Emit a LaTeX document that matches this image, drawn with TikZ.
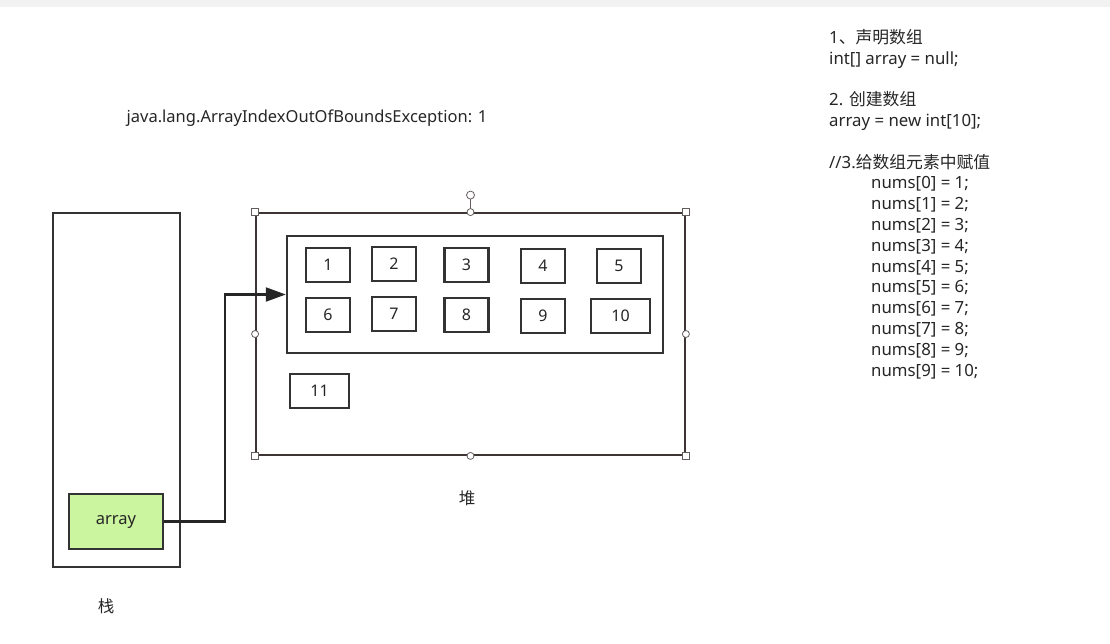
\documentclass[tikz,border=0pt]{standalone}
\usepackage{fontspec}
\setmainfont{Noto Sans}
\newfontfamily\cjk{Noto Sans CJK SC}
\usetikzlibrary{arrows.meta}
\definecolor{edge}{HTML}{333333}
\definecolor{frame}{HTML}{3D3434}
\definecolor{leaf}{HTML}{CCF59F}
\definecolor{strip}{HTML}{F2F2F2}
\definecolor{ink}{HTML}{262626}

\begin{document}
\begin{tikzpicture}[x=1pt, y=-1pt,
      cell/.style={draw=edge, line width=2.6pt, minimum width=44pt, minimum height=34pt,
                   inner sep=0pt, text=ink, font=\fontsize{16}{18}\selectfont},
      wide/.style={cell, minimum width=59pt},
      box/.style={draw=edge, line width=2.4pt, inner sep=0pt},
      handle/.style={draw=frame!80, fill=white, line width=0.8pt, inner sep=0pt, minimum size=7pt},
      label/.style={text=ink, font=\fontsize{16.5}{18}\selectfont},
      >={Triangle[length=20pt, width=14pt]}]
    \useasboundingbox (0,0) rectangle (1110,643);
    \fill[strip] (0,0) rectangle (1110,7);
    % stack
    \node[box, minimum width=127pt, minimum height=354pt] (stack) at (116.5,390) {};
    \node[box, fill=leaf, minimum width=94pt, minimum height=55pt, label] (arr) at (116,521.5) {\raisebox{-3pt}{array}};
    \node[label, font=\cjk\fontsize{16.5}{18}\selectfont] (stk) at (106,606) {栈};
    % heap
    \node[draw=frame, line width=1.8pt, minimum width=429pt, minimum height=242pt] (heap) at (470.5,334) {};
    \node[box, minimum width=376pt, minimum height=117pt] (inner) at (475,294.5) {};
    \node[cell] (c1) at (328,265) {1};
    \node[cell] (c2) at (394,264) {2};
    \node[cell] (c3) at (466.5,265) {3};
    \node[cell] (c4) at (543,266) {4};
    \node[cell] (c5) at (619,266) {5};
    \node[cell] (c6) at (328,315) {6};
    \node[cell] (c7) at (394,314) {7};
    \node[cell] (c8) at (466.5,315) {8};
    \node[cell] (c9) at (543,316) {9};
    \node[wide] (c10) at (620.5,316) {10};
    \node[wide] (c11) at (319.5,391) {11};
    \node[label, font=\cjk\fontsize{16.5}{18}\selectfont] (hp) at (467,498) {堆};
    % selection handles
    \draw[frame!80, line width=0.8pt] (heap.north) -- ++(0,-17) coordinate (rot);
    \node[handle, circle, minimum size=8pt] at (rot) {};
    \foreach \a in {north west, north east, south west, south east}
      \node[handle] at (heap.\a) {};
    \foreach \a in {north, south, west, east}
      \node[handle, circle] at (heap.\a) {};
    % reference
    \draw[->, draw=ink, line width=2.2pt] (arr.east) -- ++(61,0) |- (inner.west);
    % texts
    \node[label] (err) at (307,118) {java.lang.ArrayIndexOutOfBoundsException: 1};
    \node[label, anchor=base west, align=left, inner sep=0pt,
          font=\fontsize{16.8}{20.8}\selectfont] (code) at (829,376)
      {1{\cjk 、声明数组}\\
       int[] array = null;\\[20.8pt]
       2. {\cjk 创建数组}\\
       array = new int[10];\\[20.8pt]
       //3.{\cjk 给数组元素中赋值}\\
       \hspace*{42pt}nums[0] = 1;\\
       \hspace*{42pt}nums[1] = 2;\\
       \hspace*{42pt}nums[2] = 3;\\
       \hspace*{42pt}nums[3] = 4;\\
       \hspace*{42pt}nums[4] = 5;\\
       \hspace*{42pt}nums[5] = 6;\\
       \hspace*{42pt}nums[6] = 7;\\
       \hspace*{42pt}nums[7] = 8;\\
       \hspace*{42pt}nums[8] = 9;\\
       \hspace*{42pt}nums[9] = 10;};
  \end{tikzpicture}
\end{document}
